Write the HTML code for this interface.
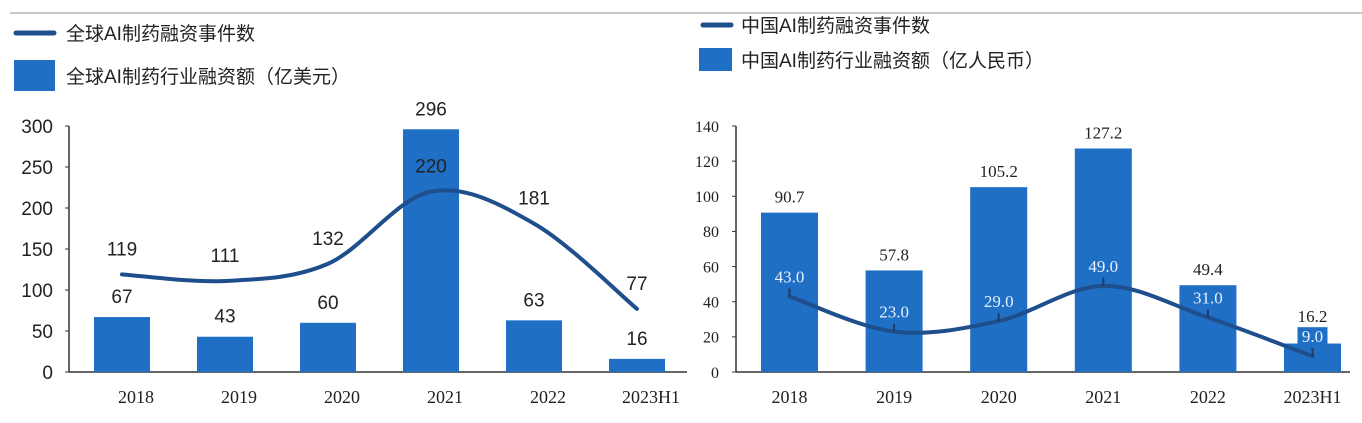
<!DOCTYPE html>
<html><head><meta charset="utf-8"><style>
body{margin:0;background:#fff;}
svg text{font-family:"Liberation Sans","Noto Sans CJK SC",sans-serif;}
.serif{font-family:"Liberation Serif","Noto Serif CJK SC",serif !important;}
</style></head><body>
<svg id="c" width="1362" height="418" xmlns="http://www.w3.org/2000/svg">
<line x1="10" y1="13" x2="1362" y2="13" stroke="#c8c8c8" stroke-width="2"/>
<g>
<line x1="16" y1="33" x2="54" y2="33" stroke="#1f4e8c" stroke-width="5" stroke-linecap="round"/>
<text x="66" y="40" font-size="19" fill="#222">全球AI制药融资事件数</text>
<rect x="14" y="60" width="41" height="31" fill="#1f6fc5"/>
<text x="66" y="83" font-size="19" fill="#222">全球AI制药行业融资额（亿美元）</text>
</g>
<g>
<line x1="703" y1="25" x2="731" y2="25" stroke="#1f4e8c" stroke-width="5" stroke-linecap="round"/>
<text x="741" y="32" font-size="19" fill="#222">中国AI制药融资事件数</text>
<rect x="699" y="48" width="33" height="23" fill="#1f6fc5"/>
<text x="741" y="67" font-size="19" fill="#222">中国AI制药行业融资额（亿人民币）</text>
</g>
<g id="L"></g>
<g id="R"></g>
</svg>
<script>
const categories=["2018","2019","2020","2021","2022","2023H1"];
const globalAmount=[67,43,60,296,63,16];
const globalEvents=[119,111,132,220,181,77];
const globalTicks=[0,50,100,150,200,250,300];
const chinaAmount=[90.7,57.8,105.2,127.2,49.4,16.2];
const chinaEvents=[43.0,23.0,29.0,49.0,31.0,9.0];
const chinaTicks=[0,20,40,60,80,100,120,140];
const NS="http://www.w3.org/2000/svg";
function mk(p,tag,a,txt){const e=document.createElementNS(NS,tag);for(const k in a)e.setAttribute(k,a[k]);if(txt!==undefined)e.textContent=txt;p.appendChild(e);return e;}
function smooth(pts){let d="M"+pts[0][0]+","+pts[0][1];for(let i=0;i<pts.length-1;i++){const p0=pts[i-1]||pts[i],p1=pts[i],p2=pts[i+1],p3=pts[i+2]||p2;const c1=[p1[0]+(p2[0]-p0[0])/6,p1[1]+(p2[1]-p0[1])/6],c2=[p2[0]-(p3[0]-p1[0])/6,p2[1]-(p3[1]-p1[1])/6];d+=" C"+c1+" "+c2+" "+p2;}return d;}
function draw(g,cfg){
 const y=v=>cfg.y0-(v/cfg.max)*(cfg.y0-cfg.y1);
 const xc=i=>cfg.b0+cfg.step*i+cfg.bw/2;
 const ax=mk(g,"line",{x1:cfg.ax,y1:cfg.y1,x2:cfg.ax,y2:cfg.y0,stroke:"#333","stroke-width":1.5});
 
 
 const bx=mk(g,"line",{x1:cfg.ax,y1:cfg.y0,x2:cfg.axEnd,y2:cfg.y0,stroke:"#333","stroke-width":1.5});
 
 
 cfg.ticks.forEach(t=>{
  const tk=mk(g,"line",{x1:cfg.ax-4,y1:y(t),x2:cfg.ax,y2:y(t),stroke:"#333","stroke-width":1});
  
  
  const tl=mk(g,"text",{x:cfg.tickX,y:y(t)+cfg.tfs*0.36,"font-size":cfg.tfs,"text-anchor":"end",fill:"#222",class:cfg.serifTicks?"serif":""},t);
  
  
 });
 const pts=cfg.line.map((v,i)=>[xc(i),y(v)]);
 categories.forEach((c,i)=>{
  const xl=mk(g,"text",{x:xc(i)+cfg.xOff,y:403,"font-size":18,"text-anchor":"middle",fill:"#222",class:"serif"},c);
  
  
  const b=mk(g,"rect",{x:cfg.b0+cfg.step*i,y:y(cfg.bars[i]),width:cfg.bw,height:cfg.y0-y(cfg.bars[i]),fill:"#1f6fc5"});
  
  
  let ly=y(cfg.bars[i])-cfg.barLblGap;
  if(cfg.lblBox){const boxTop=pts[i][1]-cfg.lineLblGap-15;if(ly>boxTop-4&&y(cfg.bars[i])>boxTop-20)ly=Math.min(ly,boxTop-5);}
  const bl=mk(g,"text",{x:xc(i),y:ly,"font-size":cfg.lfs,"text-anchor":"middle",fill:"#222",class:cfg.serifLbl?"serif":""},cfg.fmt(cfg.bars[i]));
  
  
 });
 if(cfg.lblBox){pts.forEach((pt,i)=>{
  const r=mk(g,"rect",{x:pt[0]-15,y:pt[1]-cfg.lineLblGap-15,width:30,height:19,fill:"#1f6fc5"});
  
  
 });}
 const p=mk(g,"path",{d:smooth(pts),fill:"none",stroke:"#1f4e8c","stroke-width":4,"stroke-linecap":"round"});
 
 
 pts.forEach((pt,i)=>{
  if(cfg.markTicks){const m=mk(g,"line",{x1:pt[0],y1:pt[1]-8,x2:pt[0],y2:pt[1],stroke:"#1f3a66","stroke-width":2});
   
   }
  const l=mk(g,"text",{x:pt[0],y:pt[1]-cfg.lineLblGap,"font-size":cfg.lfs,"text-anchor":"middle",fill:cfg.lineLblFill,class:cfg.serifLbl?"serif":""},cfg.fmt(cfg.line[i]));
  
  
 });
}
draw(document.getElementById("L"),{y0:372,y1:126,max:300,ax:69,axEnd:687,b0:94,step:103,bw:56,ticks:globalTicks,tickX:53,tfs:19,serifTicks:false,xOff:14,bars:globalAmount,line:globalEvents,lfs:19,serifLbl:false,barLblGap:14,lineLblGap:19,lineLblFill:"#222",fmt:v=>String(v),markTicks:false,lblBox:false});
draw(document.getElementById("R"),{y0:372,y1:126,max:140,ax:736,axEnd:1350,b0:761,step:104.6,bw:57,ticks:chinaTicks,tickX:719,tfs:16,serifTicks:true,xOff:0,bars:chinaAmount,line:chinaEvents,lfs:17,serifLbl:true,barLblGap:10,lineLblGap:14,lineLblFill:"#e8f0ff",fmt:v=>v.toFixed(1),markTicks:true,lblBox:true});
</script>
</body></html>
